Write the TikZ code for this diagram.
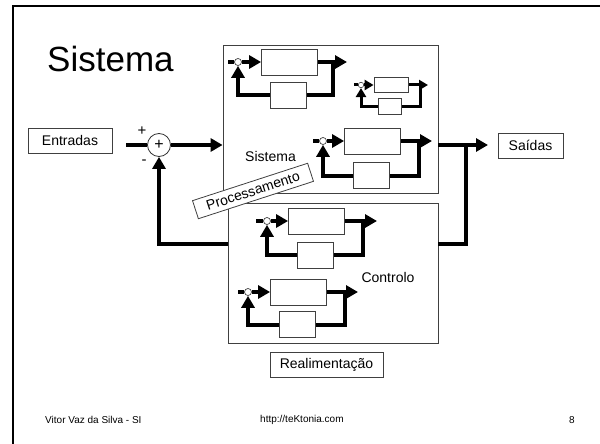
\documentclass[tikz,border=0pt]{standalone}
\usepackage{fontspec}
\setmainfont{Liberation Sans}
\usetikzlibrary{arrows.meta,backgrounds}
\newcommand\fbl[9]{%
  \node[dot#9] (#1c) at (#2,#3) {};
  \node[fwd#9] (#1f) at (#5,#3) {};
  \node[fb#9] (#1b) at (#5-1,#8) {};
  \coordinate (#1i) at (#4,#3);
  \coordinate (#1o) at (#7,#3);
  \coordinate (#1r) at (#6,#3);
  \coordinate (#1rb) at (#6,#8);
  \coordinate (#1lb) at (#2,#8);
  \begin{pgfonlayer}{background}
    \draw[ln#9] (#1i) -- (#1c.west);
    \draw[ar#9] (#1c.east) -- (#1f.west);
    \draw[ar#9] (#1f.east) -- (#1o);
    \draw[ar#9] (#1r) -- (#1rb) -- (#1lb) -- (#1c.south);
  \end{pgfonlayer}
}
\begin{document}
\begin{tikzpicture}[x=1pt,y=-1pt,
  bx/.style={draw=black!75,line width=0.8pt,fill=white,inner sep=0pt},
  lbl/.style={bx,font=\fontsize{14}{16}\selectfont,minimum height=25pt},
  bigbox/.style={draw=black!75,line width=0.8pt,inner sep=0pt},
  txt/.style={font=\fontsize{14}{16}\selectfont,inner sep=0pt},
  foot/.style={font=\fontsize{10}{12}\selectfont,inner sep=0pt},
  fwdL/.style={bx,minimum width=56pt,minimum height=26pt},
  fbL/.style={bx,minimum width=36pt,minimum height=26pt},
  fwdS/.style={bx,minimum width=34pt,minimum height=15pt},
  fbS/.style={bx,minimum width=23pt,minimum height=16pt},
  dotL/.style={circle,draw=black!75,line width=0.7pt,fill=white,inner sep=0pt,minimum size=7pt},
  dotS/.style={circle,draw=black!75,line width=0.6pt,fill=white,inner sep=0pt,minimum size=5.5pt},
  lnL/.style={line width=4pt},
  lnS/.style={line width=3pt},
  arL/.style={line width=4pt,-{Triangle[length=12pt,width=13pt]}},
  arS/.style={line width=3pt,-{Triangle[length=9pt,width=10pt]}},
  flow/.style={line width=4pt},
  arr/.style={line width=4pt,-{Triangle[length=12pt,width=13pt]}}
]
\useasboundingbox (0,0) rectangle (600,444);
% slide frame
\draw[line width=2.5pt] (13,444) -- (13,6) -- (600,6);
% title
\node[font=\fontsize{35}{40}\selectfont,inner sep=0pt,anchor=base west] (title) at (47,72) {Sistema};
% big boxes
\node[bigbox,minimum width=215pt,minimum height=148pt] (sys) at (330.5,119) {};
\node[bigbox,minimum width=210pt,minimum height=140pt] (ctl) at (333,273) {};
% loops in Sistema
\fbl{sa}{238}{62}{228}{289.5}{333}{347}{95}{L}
\fbl{sb}{361}{85}{354}{391}{420}{428}{106}{S}
\fbl{sc}{323}{141}{313}{372.5}{419}{432}{175.5}{L}
% loops in Controlo
\fbl{ca}{267}{221}{256}{316.5}{363}{377}{255}{L}
\fbl{cb}{248}{292}{238}{298.5}{345}{358}{324.5}{L}
% labels
\node[txt] (lsys) at (270.5,156.5) {Sistema};
\node[txt] (lctl) at (388,277) {Controlo};
% inputs / outputs
\node[lbl,minimum width=84pt] (ent) at (70,140.5) {Entradas};
\node[lbl,minimum width=65pt] (sai) at (530.5,145.5) {Saídas};
\node[lbl,minimum width=113pt] (rea) at (326.5,364.5) {Realimentação};
% summing junction
\node[circle,draw=black!80,line width=0.8pt,fill=white,minimum size=23pt,inner sep=0pt,font=\fontsize{16}{16}\selectfont] (sum) at (159,145) {+};
\node[txt,font=\fontsize{15}{16}\selectfont] (plus) at (142,131) {+};
\node[txt,font=\fontsize{15}{16}\selectfont] (minus) at (144,162) {-};
\coordinate (ein) at (126,145);
\coordinate (j) at (466,145);
\coordinate (jb) at (466,244);
\coordinate (otip) at (488,145);
\coordinate (fbk) at (159,244);
\draw[flow] (ein) -- (sum.west);
\draw[arr] (sum.east) -- (sum.east -| sys.west);
\draw[arr] (sys.east |- j) -- (otip);
\draw[flow] (j) -- (jb) -- (jb -| ctl.east);
\draw[arr] (fbk -| ctl.west) -- (fbk) -- (sum.south);
% Processamento tag
\node[bx,rotate=18,minimum width=121pt,minimum height=19pt,font=\fontsize{14}{16}\selectfont] (proc) at (253,191) {Processamento};
% footer
\node[foot,anchor=west] (f1) at (45,420) {Vitor Vaz da Silva - SI};
\node[foot,anchor=west] (f2) at (260,420) {http://teKtonia.com};
\node[foot] (f3) at (572,420) {8};
\end{tikzpicture}
\end{document}
